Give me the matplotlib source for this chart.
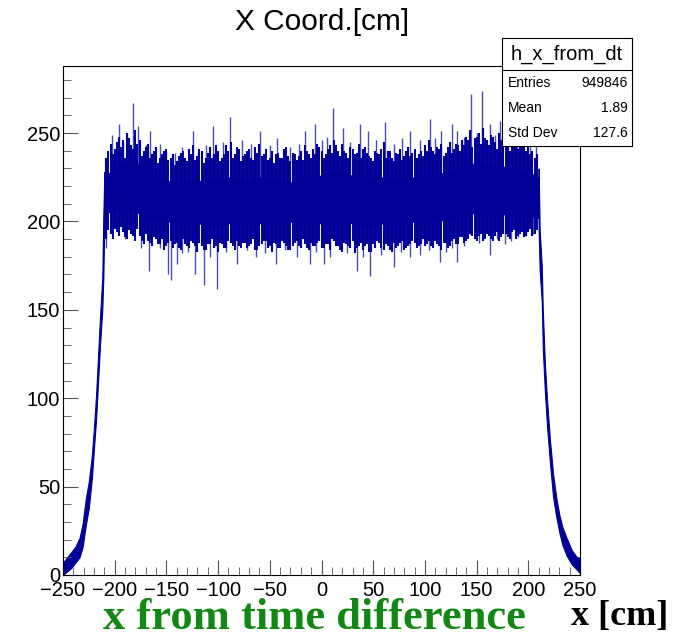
import matplotlib
matplotlib.use("Agg")
import matplotlib.pyplot as plt
from matplotlib.ticker import MultipleLocator

plt.rcParams['font.family'] = ['Liberation Sans', 'DejaVu Sans']

# dense core of the plateau band, every 10 cm
core_x = [-210, -200, -190, -180, -170, -160, -150, -140, -130, -120, -110,
          -100, -90, -80, -70, -60, -50, -40, -30, -20, -10, 0, 10, 20, 30,
          40, 50, 60, 70, 80, 90, 100, 110, 120, 130, 140, 150, 160, 170,
          180, 190, 200, 210]
core_hi = [224, 231, 234, 234, 228, 225, 223, 222, 222, 223, 223, 224, 225,
           224, 223, 225, 223, 223, 222, 224, 225, 226, 228, 227, 226, 225,
           224, 225, 223, 224, 225, 227, 226, 228, 229, 232, 233, 232, 231,
           231, 230, 228, 225]
core_lo = [204, 207, 207, 206, 202, 201, 200, 200, 199, 199, 198, 198, 199,
           200, 199, 199, 199, 200, 200, 199, 199, 199, 200, 200, 199, 198,
           198, 199, 198, 199, 200, 200, 200, 201, 202, 204, 205, 204, 204,
           204, 203, 203, 202]

# fuzzy fringe of the band (two interleaved sets of bins)
fringe_x = [-208, -204, -200, -196, -192, -188, -184, -180, -176, -172,
            -168, -164, -160, -156, -152, -148, -144, -140, -136, -132,
            -128, -124, -120, -116, -112, -108, -104, -100, -96, -92,
            -88, -84, -80, -76, -72, -68, -64, -60, -56, -52,
            -48, -44, -40, -36, -32, -28, -24, -20, -16, -12,
            -8, -4, 0, 4, 8, 12, 16, 20, 24, 28,
            32, 36, 40, 44, 48, 52, 56, 60, 64, 68,
            72, 76, 80, 84, 88, 92, 96, 100, 104, 108,
            112, 116, 120, 124, 128, 132, 136, 140, 144, 148,
            152, 156, 160, 164, 168, 172, 176, 180, 184, 188,
            192, 196, 200, 204, 208]
fringe_hi = [236, 244, 241, 248, 246, 250, 243, 252, 246, 240,
             244, 238, 242, 236, 240, 235, 238, 234, 239, 236,
             241, 243, 237, 240, 236, 242, 238, 240, 236, 243,
             245, 238, 241, 237, 240, 236, 242, 244, 238, 235,
             240, 238, 236, 241, 237, 239, 235, 240, 243, 238,
             241, 244, 240, 238, 243, 246, 240, 244, 239, 242,
             238, 244, 241, 239, 236, 240, 238, 245, 240, 236,
             239, 241, 237, 242, 239, 236, 240, 243, 246, 240,
             242, 244, 239, 245, 241, 243, 246, 248, 252, 247,
             250, 253, 246, 249, 245, 250, 247, 244, 246, 243,
             248, 245, 242, 240, 238]
fringe_lo = [190, 193, 196, 192, 194, 190, 193, 189, 192, 187,
             189, 186, 190, 187, 184, 188, 185, 188, 184, 187,
             185, 188, 183, 186, 184, 187, 185, 183, 187, 185,
             188, 184, 186, 188, 185, 187, 184, 186, 189, 185,
             183, 187, 185, 188, 184, 186, 189, 185, 187, 184,
             186, 188, 185, 187, 184, 189, 186, 183, 187, 185,
             182, 186, 184, 187, 183, 185, 188, 184, 186, 183,
             185, 188, 184, 186, 189, 185, 187, 186, 189, 185,
             187, 184, 188, 186, 190, 187, 191, 189, 193, 190,
             192, 189, 193, 190, 192, 189, 193, 191, 194, 190,
             193, 191, 194, 192, 195]
fringe2_x = [-206, -202, -198, -194, -190, -186, -182, -178, -174, -170,
             -166, -162, -158, -154, -150, -146, -142, -138, -134, -130,
             -126, -122, -118, -114, -110, -106, -102, -98, -94, -90,
             -86, -82, -78, -74, -70, -66, -62, -58, -54, -50,
             -46, -42, -38, -34, -30, -26, -22, -18, -14, -10,
             -6, -2, 2, 6, 10, 14, 18, 22, 26, 30,
             34, 38, 42, 46, 50, 54, 58, 62, 66, 70,
             74, 78, 82, 86, 90, 94, 98, 102, 106, 110,
             114, 118, 122, 126, 130, 134, 138, 142, 146, 150,
             154, 158, 162, 166, 170, 174, 178, 182, 186, 190,
             194, 198, 202, 206]
fringe2_hi = [240, 238, 245, 242, 236, 247, 241, 244, 237, 242,
              236, 240, 233, 238, 241, 236, 232, 237, 240, 234,
              238, 235, 241, 233, 239, 236, 243, 234, 238, 240,
              236, 242, 234, 238, 241, 235, 239, 237, 241, 236,
              233, 239, 236, 242, 234, 238, 237, 235, 240, 236,
              238, 242, 236, 241, 239, 243, 237, 240, 236, 241,
              239, 236, 242, 237, 234, 239, 241, 236, 240, 234,
              238, 235, 240, 237, 241, 238, 237, 240, 242, 238,
              241, 237, 242, 239, 244, 240, 243, 246, 242, 248,
              244, 247, 243, 248, 241, 246, 243, 240, 245, 241,
              243, 240, 238, 236]
fringe2_lo = [195, 190, 194, 197, 191, 195, 192, 196, 189, 193,
              188, 191, 187, 190, 186, 189, 187, 185, 190, 186,
              189, 186, 188, 184, 187, 190, 186, 188, 185, 189,
              186, 189, 185, 188, 186, 190, 184, 187, 189, 186,
              188, 185, 189, 186, 184, 188, 186, 190, 185, 188,
              186, 189, 185, 187, 190, 186, 184, 188, 186, 189,
              185, 188, 186, 183, 187, 189, 185, 187, 184, 188,
              186, 189, 185, 187, 188, 186, 190, 187, 186, 189,
              186, 188, 185, 189, 187, 191, 188, 190, 192, 189,
              193, 190, 192, 189, 194, 191, 193, 190, 195, 192,
              194, 192, 196, 193]

# rising and falling edges
rise_x = [-250, -246, -242, -238, -234, -231, -228, -225, -222, -220, -218,
          -216, -214, -212, -211, -210]
rise_lo = [0, 2, 4, 7, 10, 16, 28, 38, 55, 72, 88, 110, 132, 150, 168, 200]
rise_hi = [7, 10, 13, 16, 21, 29, 43, 53, 68, 84, 102, 125, 148, 168, 203, 228]
fall_x = [210, 211, 213, 214, 216, 218, 221, 224, 227, 230, 233, 237, 242,
          247, 250]
fall_lo = [195, 172, 155, 128, 104, 85, 63, 44, 33, 24, 17, 11, 6, 3, 1]
fall_hi = [230, 195, 175, 150, 120, 100, 76, 57, 44, 34, 27, 21, 14, 10, 10]

# single bins sticking out above / below the band
spike_x = [-203, -196, -192, -188.5, -182, -177, -170, -166, -156, -150, -142,
           -135, -124, -119, -112, -105, -95, -88.5, -77, -68, -59, -50, -43,
           -30, -22, -16, -6, 0, 5, 11, 21, 28, 37, 45, 53, 61, 70, 78, 86,
           95, 105, 110, 116, 126, 131, 138, 145, 150, 155, 163, 168, 173,
           180, 189, 195, 202, 207]
spike_top = [249, 255, 245, 249, 267, 254, 243, 251, 244, 240, 239, 242, 251,
             240, 243, 254, 245, 259, 246, 244, 251, 243, 247, 242, 244, 251,
             255, 246, 248, 264, 253, 245, 255, 251, 246, 256, 244, 247, 251,
             246, 258, 247, 251, 255, 251, 248, 272, 250, 274, 255, 249, 257,
             250, 251, 257, 246, 245]
dip_x = [-208, -196, -190, -185, -175, -167, -156, -148, -146, -140, -135,
         -129, -122, -114, -108, -101, -92, -82, -72, -63, -55, -44, -35, -24,
         -11, -5, 2, 8, 15, 25, 34, 40, 47, 58, 70, 77, 86, 95, 104, 115, 120,
         126, 131, 138, 144, 152, 163, 170, 177, 183, 190, 198, 205]
dip_bottom = [185, 197, 190, 195, 185, 172, 185, 170, 167, 176, 182, 183, 170,
              164, 180, 162, 183, 176, 184, 180, 182, 176, 184, 180, 176, 183,
              176, 180, 187, 182, 172, 180, 169, 181, 174, 183, 180, 181, 184,
              177, 183, 185, 177, 186, 193, 188, 181, 190, 187, 189, 191, 192,
              193]

x_ticks = [-250, -200, -150, -100, -50, 0, 50, 100, 150, 200, 250]
stats_names = ['Entries', 'Mean', 'Std Dev']
stats_values = ['949846', '1.89', '127.6']

hist_color = '#000099'

fig = plt.figure(figsize=(6.81, 6.40), dpi=100)
ax = fig.add_axes([0.0925, 0.1016, 0.7592, 0.7954])

ax.fill_between(core_x, core_lo, core_hi, color=hist_color, lw=0.8)
ax.fill_between(rise_x, rise_lo, rise_hi, color=hist_color, lw=0.8)
ax.fill_between(fall_x, fall_lo, fall_hi, color=hist_color, lw=0.8)
ax.vlines(fringe_x, fringe_lo, fringe_hi, color=hist_color, lw=1.5)
ax.vlines(fringe2_x, fringe2_lo, fringe2_hi, color=hist_color, lw=1.4)
ax.vlines(spike_x, 215, spike_top, color=hist_color, lw=1.0, alpha=0.7)
ax.vlines(dip_x, 215, dip_bottom, color=hist_color, lw=1.0, alpha=0.7)

ax.set_xlim(-250, 250)
ax.set_ylim(0, 288)
ax.set_xticks(x_ticks)
ax.xaxis.set_minor_locator(MultipleLocator(10))
ax.yaxis.set_major_locator(MultipleLocator(50))
ax.yaxis.set_minor_locator(MultipleLocator(10))
ax.tick_params(which='both', direction='in', top=False, right=False,
               labelsize=14.5, color='#555555')
ax.tick_params(which='major', length=11)
ax.tick_params(which='minor', length=5.5)
ax.tick_params(axis='x', pad=4)
ax.tick_params(axis='y', pad=2)
for sp in ax.spines.values():
    sp.set_linewidth(0.8)

fig.text(0.473, 0.966, 'X Coord.[cm]', fontsize=21.5, ha='center', va='center')

# stats box
box = fig.add_axes([0.737, 0.772, 0.191, 0.1686])
box.set_xticks([])
box.set_yticks([])
box.set_xlim(0, 1)
box.set_ylim(0, 1)
for sp in box.spines.values():
    sp.set_linewidth(0.8)
box.axhline(0.704, color='black', lw=0.8)
box.text(0.5, 0.852, 'h_x_from_dt', fontsize=14.5, ha='center', va='center')
for i in range(3):
    yy = 0.58 - i * 0.232
    box.text(0.045, yy, stats_names[i], fontsize=10, ha='left', va='center')
    box.text(0.97, yy, stats_values[i], fontsize=10, ha='right', va='center')

fig.text(0.462, 0.035, 'x from time difference', fontsize=32,
         family='Liberation Serif', weight='bold', color='#118811',
         ha='center', va='center')
fig.text(0.981, 0.036, 'x [cm]', fontsize=26, family='Liberation Serif',
         weight='bold', color='black', ha='right', va='center')

fig.savefig('out.png', dpi=100)
